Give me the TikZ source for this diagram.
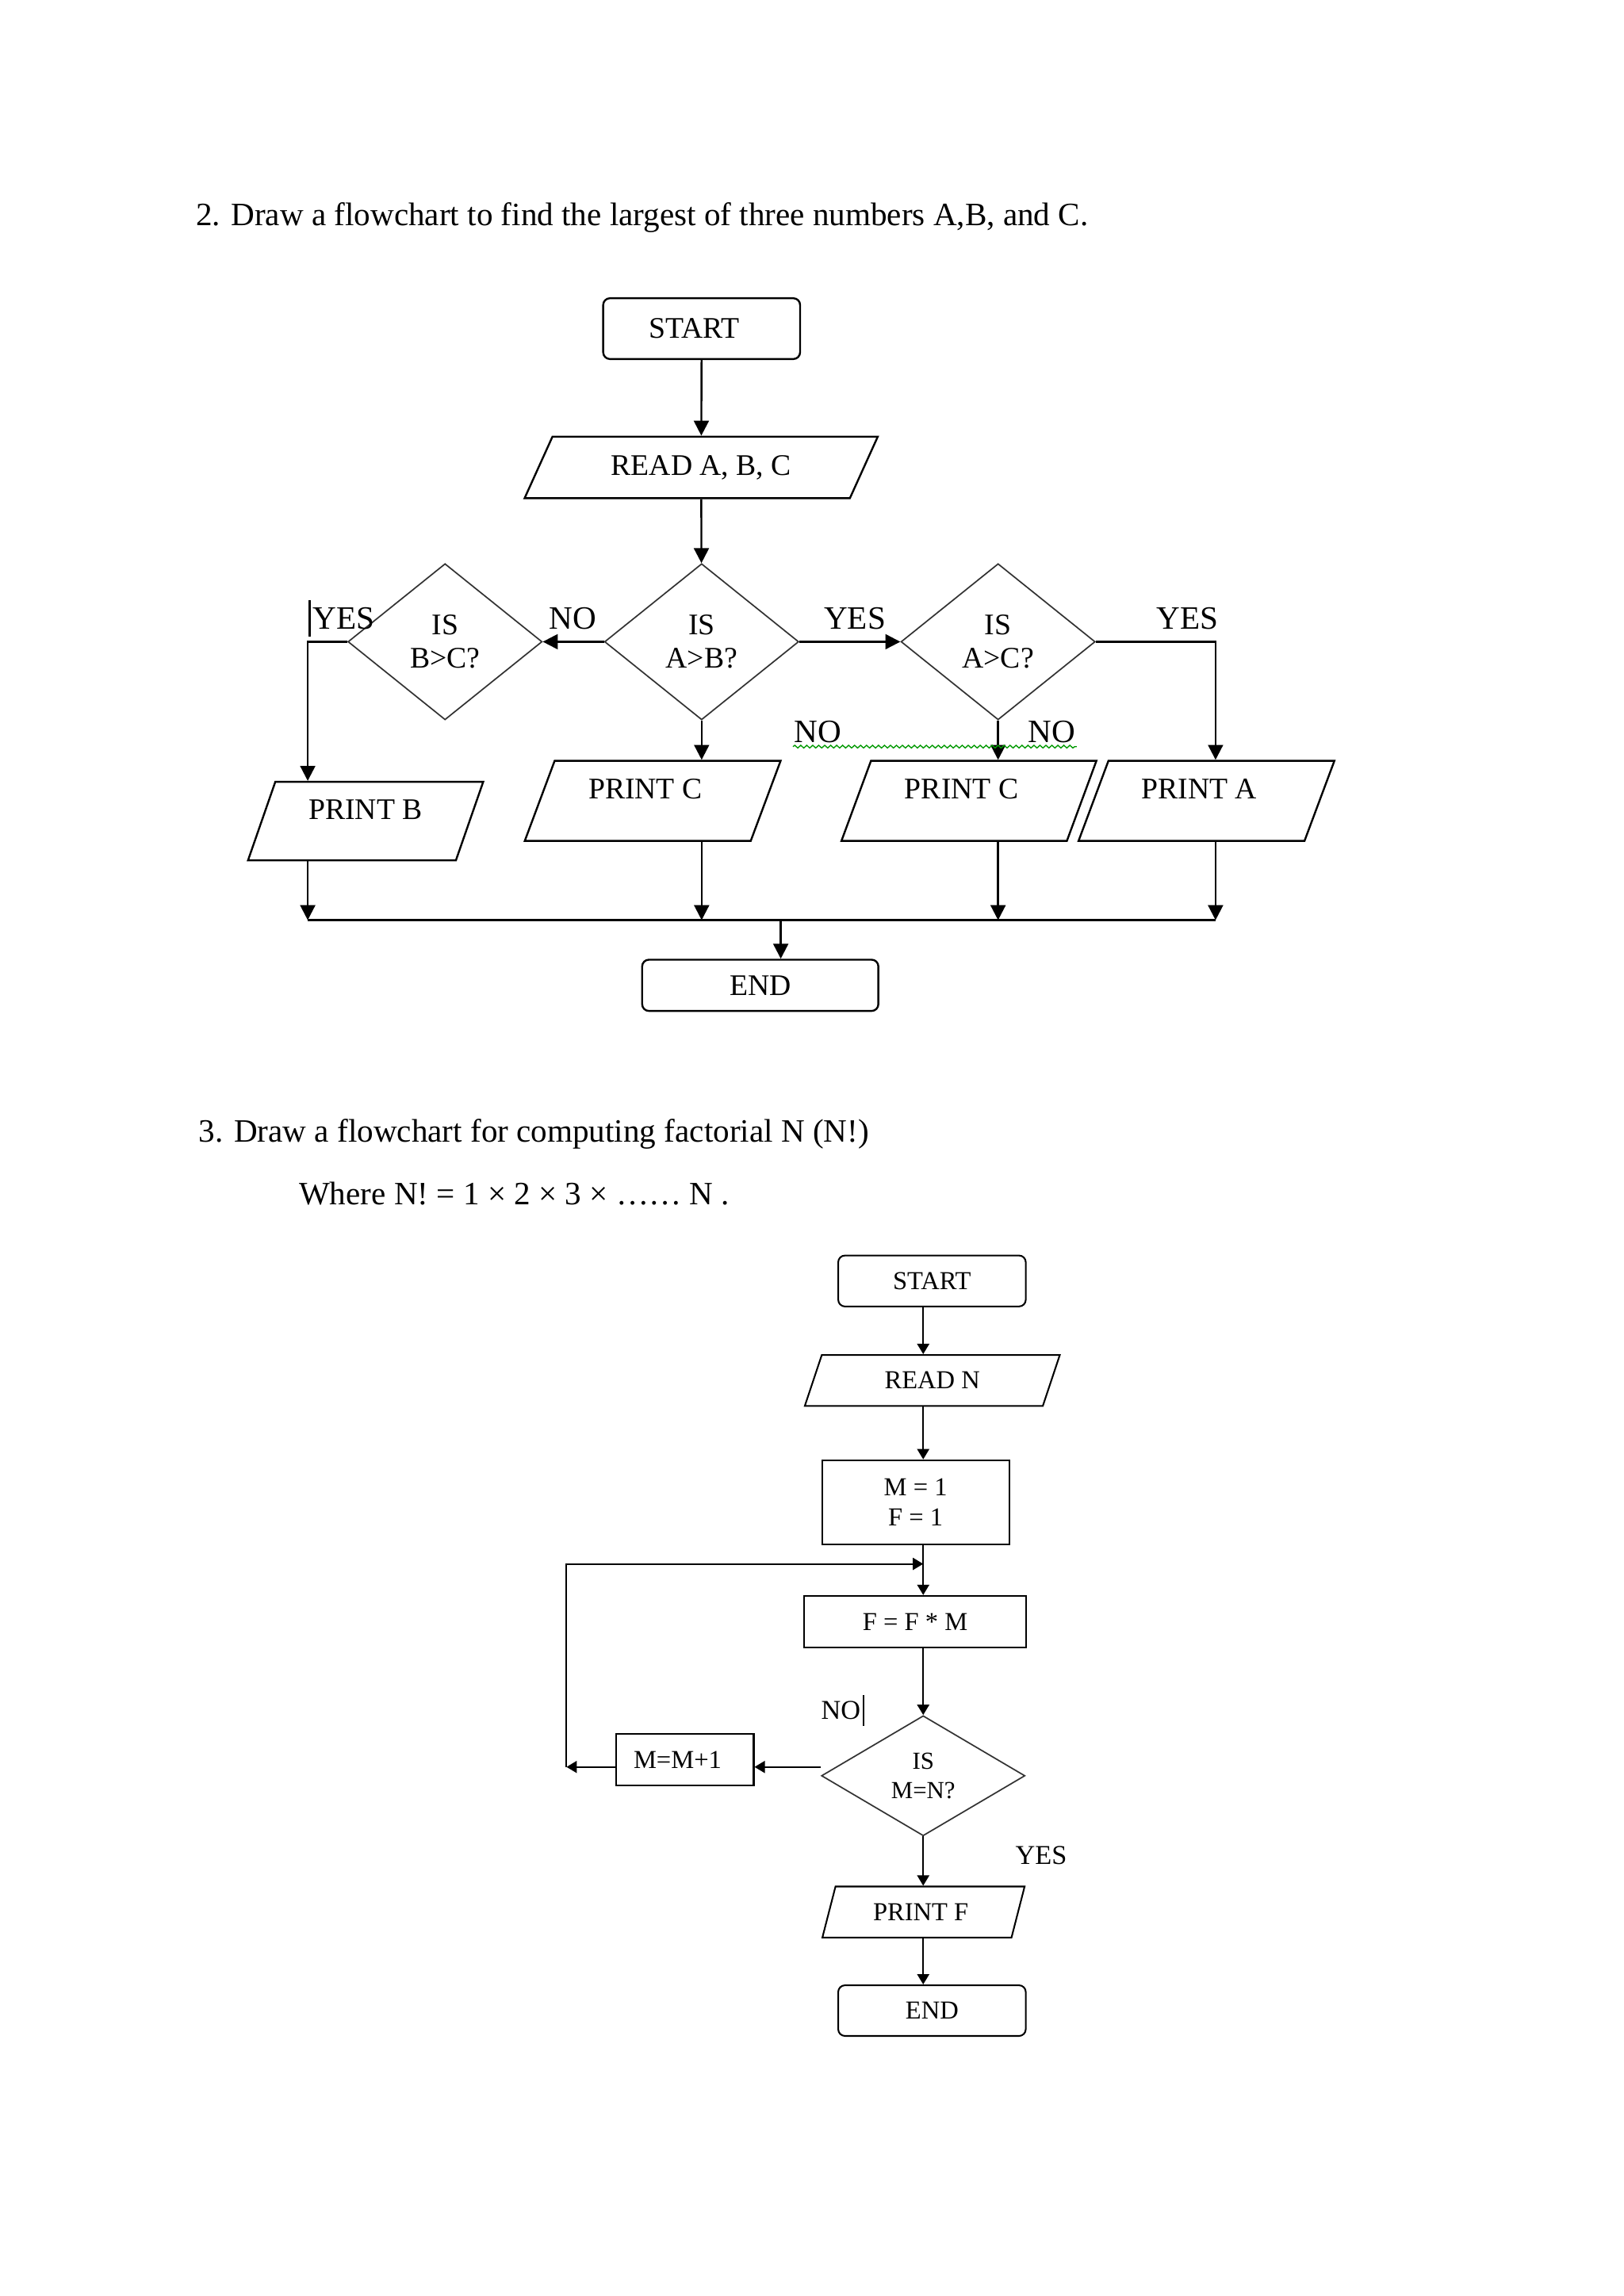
\documentclass[tikz,border=0pt]{standalone}
\usepackage{fontspec}
\setmainfont{Liberation Serif}
\usetikzlibrary{arrows.meta,shapes.geometric,decorations.pathmorphing}

\newcommand{\unitpx}{0.1895mm}
\newcommand{\bigtxt}{\fontsize{12}{14.4}\selectfont}
\newcommand{\midtxt}{\fontsize{11}{12.4}\selectfont}
\newcommand{\smltxt}{\fontsize{9.5}{11.3}\selectfont}

\tikzset{
  sz/.style 2 args={minimum width=#1*\unitpx, minimum height=#2*\unitpx},
  arr/.style={-{Triangle[length=5.5pt,width=5.5pt]}, line width=0.7pt},
  arrs/.style={-{Triangle[length=3.8pt,width=4.4pt]}, line width=0.6pt},
  termbox/.style={draw, rounded corners=2.5pt, inner sep=0pt, line width=0.7pt},
  iobox/.style={draw, trapezium, trapezium stretches body, inner sep=0pt, line width=0.7pt},
  printtxt/.style={text height=8pt, text depth=9.4pt},
  procbox/.style={draw, rectangle, inner sep=0pt, line width=0.6pt, align=center},
  decide/.style={draw=black!80, diamond, inner sep=0pt, line width=0.5pt, align=center},
  lbl/.style={anchor=base west, inner sep=0pt},
}

\begin{document}
\begin{tikzpicture}[x=\unitpx, y=-\unitpx]
  \fill[white] (0,0) rectangle (1108.2,1567.1);
  \useasboundingbox (0,0) rectangle (1108.2,1567.1);

  % question 2
  \node[lbl, font=\bigtxt] (q2) at (133.3,154.2) {2. Draw a flowchart to find the largest of three numbers A,B, and C.};

  \node[termbox, sz={134.4}{41.5}, font=\midtxt] (start) at (478.8,224.3) {START\kern5.4pt};
  \node[iobox, sz={241}{42}, trapezium left angle=41.2, trapezium right angle=138.8, font=\midtxt] (read) at (478.5,319) {READ A, B, C};
  \node[decide, sz={132.5}{106.6}, font=\midtxt] (ab) at (478.8,438) {IS\\A>B?};
  \node[decide, sz={132.5}{106.6}, font=\midtxt] (bc) at (303.7,438) {IS\\B>C?};
  \node[decide, sz={132.5}{106.6}, font=\midtxt] (ac) at (681.1,438) {IS\\A>C?};
  \node[iobox, printtxt, sz={160.5}{53.6}, trapezium left angle=60, trapezium right angle=120, font=\midtxt] (printB) at (249.5,560.4) {PRINT B};
  \node[iobox, printtxt, sz={174.6}{54.7}, trapezium left angle=57.7, trapezium right angle=122.3, font=\midtxt] (printC) at (445.4,546.6) {PRINT C\kern5.4pt};
  \node[iobox, printtxt, sz={174}{54.7}, trapezium left angle=58, trapezium right angle=122, font=\midtxt] (printCC) at (661.2,546.6) {PRINT C\kern5.4pt};
  \node[iobox, printtxt, sz={174.6}{54.7}, trapezium left angle=57.7, trapezium right angle=122.3, font=\midtxt] (printA) at (823.3,546.6) {PRINT A\kern5.4pt};
  \node[termbox, sz={161.2}{35}, font=\midtxt] (stop) at (518.8,672.5) {END};

  \coordinate (busL) at (210,628);
  \coordinate (busM) at (532.8,628);
  \coordinate (busR) at (829.5,628);

  \draw[arr] (start) -- (read);
  \draw[arr] (read) -- (ab);
  \draw[arr] (ab.west) -- (bc.east);
  \draw[arr] (ab.east) -- (ac.west);
  \draw[arr] (bc.west) -| (busL |- printB.north);
  \draw[arr] (ac.east) -| (busR |- printA.north);
  \draw[arr] (ab.south) -- (ab.south |- printC.north);
  \draw[arr] (ac.south) -- (ac.south |- printCC.north);
  \draw[arr] (busL |- printB.south) -- (busL);
  \draw[arr] (ab.south |- printC.south) -- (ab.south |- busL);
  \draw[arr] (ac.south |- printCC.south) -- (ac.south |- busL);
  \draw[arr] (busR |- printA.south) -- (busR);
  \draw[line width=0.7pt] (busL) -- (busR);
  \draw[arr] (busM) -- (busM |- stop.north);

  \node[lbl, font=\bigtxt] (yesB) at (213,429.3) {YES};
  \node[lbl, font=\bigtxt] (noA) at (374.3,429.3) {NO};
  \node[lbl, font=\bigtxt] (yesA) at (562,429.3) {YES};
  \node[lbl, font=\bigtxt] (yesC) at (789,429.3) {YES};
  \node[lbl, font=\bigtxt] (noB) at (541.5,506.8) {NO};
  \node[lbl, font=\bigtxt] (noC) at (701.3,506.8) {NO};
  \draw[line width=0.9pt] (211.4,409.5) -- (211.4,434.3);
  \draw[green!60!black, line width=0.4pt, decorate, decoration={snake, amplitude=0.5pt, segment length=2.2pt}] (541.1,509.6) -- (734.8,509.6);

  % question 3
  \node[lbl, font=\bigtxt] (q3) at (135.3,779.6) {3. Draw a flowchart for computing factorial N (N!)};
  \node[lbl, font=\bigtxt] (where) at (203.7,822) {Where N! = 1 × 2 × 3 × …… N .};

  \node[termbox, sz={128}{34.8}, line width=0.6pt, font=\smltxt] (start2) at (636,874.3) {START};
  \node[iobox, sz={174}{34.8}, line width=0.6pt, trapezium left angle=45.2, trapezium right angle=134.8, font=\smltxt] (read2) at (636.2,942.2) {READ N};
  \node[procbox, sz={127.8}{57.4}, font=\smltxt] (init) at (624.8,1025.3) {M = 1\\F = 1};
  \node[procbox, sz={151.5}{35.2}, font=\smltxt] (mult) at (624.5,1106.8) {F = F * M};
  \node[decide, sz={138.9}{82}, shape aspect=1.69, font=\fontsize{9}{10.7}\selectfont] (test) at (630,1212) {IS\\M=N?};
  \node[procbox, sz={93.9}{35.2}, font=\smltxt] (incr) at (467.4,1201.1) {M=M+1\kern5.4pt};
  \node[iobox, sz={138}{34.8}, line width=0.6pt, trapezium left angle=52.2, trapezium right angle=127.8, font=\smltxt] (printF) at (630.2,1305) {PRINT F\kern2pt};
  \node[termbox, sz={128}{34.6}, line width=0.6pt, font=\smltxt] (stop2) at (636,1372.3) {END};

  \coordinate (spine) at (630,880);
  \coordinate (loopB) at (386.6,1206);
  \coordinate (loopT) at (386.6,1067.4);

  \draw[arrs] (spine |- start2.south) -- (spine |- read2.north);
  \draw[arrs] (spine |- read2.south) -- (spine |- init.north);
  \draw[line width=0.6pt] (spine |- init.south) -- (spine |- loopT);
  \draw[arrs] (spine |- loopT) -- (spine |- mult.north);
  \draw[arrs] (spine |- mult.south) -- (test.north);
  \draw[arrs] (test.west |- loopB) -- (incr.east |- loopB);
  \draw[arrs] (incr.west |- loopB) -- (loopB);
  \draw[arrs] (loopB) -- (loopT) -- (spine |- loopT);
  \draw[arrs] (test.south) -- (test.south |- printF.north);
  \draw[arrs] (spine |- printF.south) -- (spine |- stop2.north);

  \node[lbl, font=\fontsize{10}{12}\selectfont] (noM) at (560,1173.3) {NO};
  \node[lbl, font=\fontsize{10}{12}\selectfont] (yesM) at (692.6,1272.6) {YES};
  \draw[line width=0.8pt] (589.3,1157) -- (589.3,1177.8);
\end{tikzpicture}
\end{document}
